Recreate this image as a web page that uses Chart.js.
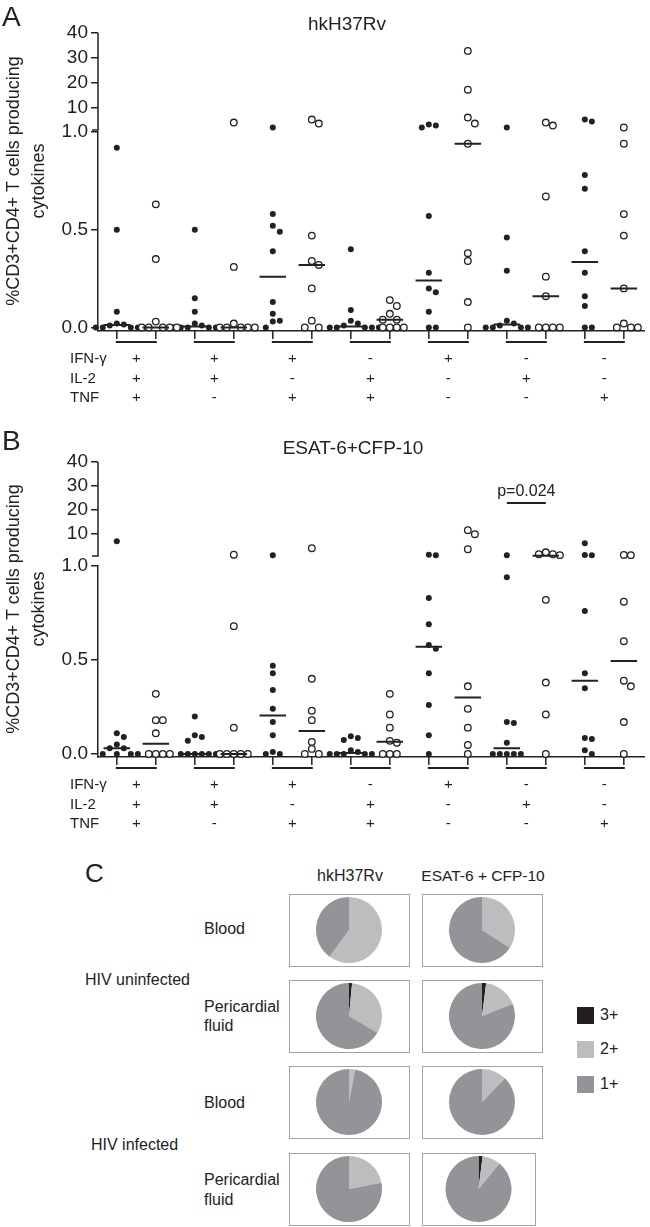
<!DOCTYPE html>
<html>
<head>
<meta charset="utf-8">
<script src="https://cdn.jsdelivr.net/npm/chart.js@4.4.0/dist/chart.umd.min.js"></script>
<style>
  body { margin: 0; background: #fff; }
  #page { position: relative; width: 650px; height: 1227px; overflow: hidden;
          font-family: "Liberation Sans", Arial, sans-serif; color: #222; }
  .t { position: absolute; white-space: nowrap; line-height: 1; }
  .ytitle { position: absolute; width: 340px; text-align: center; font-size: 18px; line-height: 25px;
            transform: translate(-50%, -50%) rotate(-90deg); white-space: nowrap; }
  canvas.panel { position: absolute; left: 0; }
  .box { position: absolute; border: 1.5px solid #a3a3a3; box-sizing: border-box; }
  .box canvas { position: absolute; left: 0; top: 0; }
  .sw { position: absolute; width: 17px; height: 17px; }
</style>
</head>
<body>
<div id="page">
  <canvas id="chartA" class="panel" width="650" height="410" style="top:0"></canvas>
  <canvas id="chartB" class="panel" width="650" height="410" style="top:428px"></canvas>
</div>
<script>
// cytokine combination of each group
const cytokineNames = ['IFN-γ', 'IL-2', 'TNF'];
const ifng = ['+', '+', '+', '-', '+', '-', '-'];
const il2  = ['+', '+', '-', '+', '-', '+', '-'];
const tnf  = ['+', '-', '+', '+', '-', '-', '+'];

// % CD3+CD4+ T cells, one list per cytokine group (filled = blood, open = pericardial fluid)
const hkBlood = [
  [0.92, 0.5, 0.08, 0.02, 0.015, 0.01, 0, 0, 0, 0],
  [0.5, 0.15, 0.08, 0.02, 0.01, 0, 0, 0, 0, 0],
  [2.0, 0.58, 0.52, 0.49, 0.39, 0.13, 0.07, 0.035, 0.03, 0],
  [0.4, 0.09, 0.035, 0.02, 0.01, 0, 0, 0, 0, 0],
  [3.2, 2.8, 2.0, 0.57, 0.28, 0.2, 0.18, 0.08, 0, 0],
  [2.0, 0.46, 0.29, 0.035, 0.02, 0.01, 0, 0, 0, 0],
  [5.2, 4.4, 0.78, 0.71, 0.39, 0.28, 0.16, 0.11, 0, 0]
];
const hkFluid = [
  [0.63, 0.35, 0.03, 0, 0, 0, 0, 0],
  [4.0, 0.31, 0.02, 0, 0, 0, 0, 0],
  [5.2, 3.6, 0.47, 0.34, 0.32, 0.2, 0.035, 0, 0],
  [0.14, 0.11, 0.07, 0.04, 0.04, 0, 0, 0, 0],
  [32.8, 17.2, 6, 3.6, 0.94, 0.38, 0.34, 0.13, 0],
  [4.0, 2.8, 0.67, 0.26, 0.16, 0, 0, 0, 0],
  [2.0, 0.94, 0.58, 0.47, 0.2, 0.02, 0, 0, 0]
];
const esatBlood = [
  [7.1, 0.11, 0.09, 0.05, 0.03, 0.03, 0, 0, 0, 0],
  [0.2, 0.1, 0.09, 0.07, 0, 0, 0, 0, 0, 0],
  [1.3, 0.47, 0.43, 0.34, 0.24, 0.17, 0.1, 0.01, 0, 0],
  [0.095, 0.085, 0.075, 0.02, 0.01, 0, 0, 0, 0, 0],
  [1.5, 1.3, 0.83, 0.69, 0.58, 0.56, 0.43, 0.26, 0.1, 0],
  [1.3, 0.94, 0.17, 0.165, 0.06, 0, 0, 0, 0, 0],
  [6.2, 1.4, 1.3, 0.76, 0.43, 0.35, 0.085, 0.08, 0.02, 0]
];
const esatFluid = [
  [0.32, 0.18, 0.18, 0.11, 0, 0, 0, 0],
  [1.5, 0.68, 0.14, 0, 0, 0, 0, 0],
  [4.2, 0.4, 0.23, 0.18, 0.064, 0.027, 0, 0],
  [0.32, 0.21, 0.14, 0.07, 0.06, 0, 0, 0],
  [11.7, 10, 3.75, 0.36, 0.24, 0.14, 0.048, 0],
  [2.5, 1.7, 1.7, 1.3, 0.82, 0.38, 0.21, 0],
  [1.4, 1.3, 0.81, 0.6, 0.39, 0.36, 0.17, 0]
];
const esatTests = [{ from: 10, to: 11, level: 23, text: 'p=0.024' }];

const yTicksLow = [0, 0.5, 1.0];
const yTicksHigh = [10, 20, 30, 40];

// panel C: proportion of cells making 3, 2 or 1 cytokines
const gradeLabels = ['3+', '2+', '1+'];
const gradeColors = ['#231f20', '#bbbdbf', '#929497'];
const pieCols = ['hkH37Rv', 'ESAT-6 + CFP-10'];
const pieRows = ['Blood', 'Pericardial\nfluid', 'Blood', 'Pericardial\nfluid'];
const hivGroups = ['HIV uninfected', 'HIV infected'];
const pieHk = [[0, 60, 40], [1.5, 32, 66.5], [0, 3, 97], [0, 22, 78]];
const pieEsat = [[0, 34, 66], [2, 17, 81], [0, 12.3, 87.7], [2, 9, 89]];

const ink = '#222';
const fontFamily = '"Liberation Sans", Arial, sans-serif';
Chart.defaults.font.family = fontFamily;
Chart.defaults.color = ink;

function median(arr) {
  const s = [...arr].sort((a, b) => a - b);
  const m = Math.floor(s.length / 2);
  return s.length % 2 ? s[m] : (s[m - 1] + s[m]) / 2;
}

// simple beeswarm: push overlapping points sideways
function swarm(values, col) {
  const step = 0.18, out = [];
  values.forEach(v => {
    const high = v > 1, tol = high ? 2.9 : 0.036;
    for (let k = 0; k < 30; k++) {
      const x = col + (k % 2 ? 1 : -1) * Math.ceil(k / 2) * step;
      const hit = out.some(p => (p.y > 1) === high && Math.abs(p.y - v) < tol && Math.abs(p.x - x) < step * 0.9);
      if (!hit) { out.push({ x, y: v }); break; }
    }
  });
  return out;
}

const groupMarks = {
  id: 'groupMarks',
  afterDraw(chart, args, opts) {
    const { ctx, chartArea, scales } = chart;
    const x = scales.x, yHigh = scales.yHigh;
    ctx.save();
    ctx.strokeStyle = ink;
    ctx.fillStyle = ink;
    ctx.lineWidth = 1.5;
    // upper piece of the broken y axis
    const top = yHigh.getPixelForValue(40), brk = yHigh.getPixelForValue(1);
    ctx.beginPath();
    ctx.moveTo(chartArea.left, top);
    ctx.lineTo(chartArea.left, brk);
    ctx.lineTo(chartArea.left - 6, brk);
    ctx.stroke();

    const base = chartArea.bottom;
    ctx.font = '15px ' + fontFamily;
    ctx.textBaseline = 'middle';
    ctx.textAlign = 'left';
    cytokineNames.forEach((n, r) => ctx.fillText(n, 70, base + 28 + r * 19.5));
    ctx.textAlign = 'center';
    for (let g = 0; g < 7; g++) {
      const x0 = x.getPixelForValue(2 * g), x1 = x.getPixelForValue(2 * g + 1);
      ctx.lineWidth = 1.5;
      ctx.beginPath();
      ctx.moveTo(x0, base); ctx.lineTo(x0, base + 8);
      ctx.moveTo(x1, base); ctx.lineTo(x1, base + 8);
      ctx.stroke();
      ctx.lineWidth = 2;
      ctx.beginPath();
      ctx.moveTo(x0 - 1, base + 11); ctx.lineTo(x1 + 1, base + 11);
      ctx.stroke();
      [ifng, il2, tnf].forEach((row, r) => ctx.fillText(row[g], (x0 + x1) / 2, base + 28 + r * 19.5));
    }

    (opts.tests || []).forEach(t => {
      const y = yHigh.getPixelForValue(t.level);
      const xa = x.getPixelForValue(t.from), xb = x.getPixelForValue(t.to);
      ctx.lineWidth = 2;
      ctx.beginPath(); ctx.moveTo(xa, y); ctx.lineTo(xb, y); ctx.stroke();
      ctx.font = '16px ' + fontFamily;
      ctx.fillText(t.text, (xa + xb) / 2, y - 11);
    });
    ctx.restore();
  }
};

function drawPanel(id, blood, fluid, geom, tests) {
  const bloodLow = [], bloodHigh = [], fluidLow = [], fluidHigh = [];
  const medLow = [], medHigh = [];
  for (let g = 0; g < 7; g++) {
    [[blood[g], 2 * g, bloodLow, bloodHigh], [fluid[g], 2 * g + 1, fluidLow, fluidHigh]].forEach(([vals, col, lo, hi]) => {
      swarm(vals, col).forEach(p => (p.y > 1 ? hi : lo).push(p));
      const m = median(vals);
      (m > 1 ? medHigh : medLow).push({ x: col - 0.34, y: m }, { x: col + 0.34, y: m }, { x: col + 0.34, y: null });
    });
  }

  const filled = { pointRadius: 3, pointBackgroundColor: ink, pointBorderWidth: 0, clip: false, order: 2 };
  const open = { pointRadius: 3.3, pointBackgroundColor: '#fff', pointBorderColor: ink, pointBorderWidth: 1.3, clip: false, order: 1 };
  const medStyle = { type: 'line', borderColor: ink, borderWidth: 2, pointRadius: 0, spanGaps: false, clip: false, order: 0 };

  const yTickStyle = { color: ink, font: { size: 19 }, padding: 3, autoSkip: false };
  const yGrid = { drawOnChartArea: false, tickLength: 7, color: ink, lineWidth: 1.5 };

  new Chart(document.getElementById(id), {
    type: 'scatter',
    data: {
      datasets: [
        { ...medStyle, data: medHigh, yAxisID: 'yHigh' },
        { ...medStyle, data: medLow, yAxisID: 'yLow' },
        { ...open, data: fluidHigh, yAxisID: 'yHigh' },
        { ...open, data: fluidLow, yAxisID: 'yLow' },
        { ...filled, data: bloodHigh, yAxisID: 'yHigh' },
        { ...filled, data: bloodLow, yAxisID: 'yLow' }
      ]
    },
    options: {
      responsive: false,
      animation: false,
      events: [],
      layout: { padding: { top: geom.top, left: 0, right: 0, bottom: 0 } },
      plugins: { legend: { display: false }, tooltip: { enabled: false }, groupMarks: { tests } },
      scales: {
        x: {
          type: 'linear', min: -0.482, max: 13.535,
          ticks: { display: false },
          grid: { display: false, drawTicks: false },
          border: { display: true, color: ink, width: 1.5 },
          afterFit: s => { s.height = geom.xh; }
        },
        // stacked axes are laid out bottom-up in declaration order
        yLow: {
          type: 'linear', position: 'left', stack: 'y', stackWeight: geom.wLow,
          min: geom.loMin, max: 1,
          afterBuildTicks: s => { s.ticks = yTicksLow.map(v => ({ value: v })); },
          ticks: { ...yTickStyle, callback: v => Number(v).toFixed(1) },
          grid: yGrid,
          border: { display: true, color: ink, width: 1.5 },
          afterFit: s => { s.width = 98; }
        },
        yHigh: {
          type: 'linear', position: 'left', stack: 'y', stackWeight: geom.wHigh,
          min: geom.hiMin, max: 40,
          afterBuildTicks: s => { s.ticks = yTicksHigh.map(v => ({ value: v })); },
          ticks: { ...yTickStyle, callback: v => String(v) },
          grid: yGrid,
          border: { display: false },
          afterFit: s => { s.width = 98; }
        }
      }
    },
    plugins: [groupMarks]
  });
}

drawPanel('chartA', hkBlood, hkFluid, { top: 33, xh: 79, wHigh: 99, wLow: 199, hiMin: 0.2, loMin: -0.018 }, []);
drawPanel('chartB', esatBlood, esatFluid, { top: 34, xh: 81, wHigh: 104, wLow: 191, hiMin: -3.2, loMin: -0.016 }, esatTests);

// ---- text around the dot plots and panel C ----
const page = document.getElementById('page');
function text(str, x, y, size, align) {
  const d = document.createElement('div');
  d.className = 't';
  d.textContent = str;
  d.style.left = x + 'px';
  d.style.top = y + 'px';
  d.style.fontSize = size + 'px';
  const tx = align === 'center' ? '-50%' : '0';
  d.style.transform = `translate(${tx}, -50%)`;
  page.appendChild(d);
  return d;
}
function yTitle(cy) {
  const d = document.createElement('div');
  d.className = 'ytitle';
  d.innerHTML = '%CD3+CD4+ T cells producing<br>cytokines';
  d.style.left = '26px';
  d.style.top = cy + 'px';
  page.appendChild(d);
}

text('A', 2, 17, 28, 'left');
text('hkH37Rv', 347, 23, 19, 'center');
yTitle(181);
text('B', 2, 441, 28, 'left');
text('ESAT-6+CFP-10', 353, 447, 19, 'center');
yTitle(609);

text('C', 85, 873, 26, 'left');
text(pieCols[0], 350, 876, 16, 'center');
text(pieCols[1], 483, 876, 15.5, 'center');

const rowTops = [894, 980, 1066, 1153];
const colLefts = [289, 422];
const rowLabelY = [[929], [1007, 1026], [1103], [1180, 1200]];
pieRows.forEach((lab, r) => {
  lab.split('\n').forEach((line, i) => text(line, 204, rowLabelY[r][i], 16, 'left'));
});
text(hivGroups[0], 85, 980, 16, 'left');
text(hivGroups[1], 91, 1145, 16, 'left');

function drawPie(r, c, values) {
  const w = (r === 3 && c === 1) ? 114 : 121, h = 73;
  const box = document.createElement('div');
  box.className = 'box';
  box.style.left = colLefts[c] + 'px';
  box.style.top = rowTops[r] + 'px';
  box.style.width = w + 'px';
  box.style.height = h + 'px';
  const cv = document.createElement('canvas');
  cv.width = w - 3;
  cv.height = h - 3;
  box.appendChild(cv);
  page.appendChild(box);
  new Chart(cv, {
    type: 'pie',
    data: { labels: gradeLabels, datasets: [{ data: values, backgroundColor: gradeColors, borderWidth: 0 }] },
    options: {
      responsive: false, animation: false, events: [],
      layout: { padding: 2 },
      plugins: { legend: { display: false }, tooltip: { enabled: false } }
    }
  });
}
for (let r = 0; r < 4; r++) {
  drawPie(r, 0, pieHk[r]);
  drawPie(r, 1, pieEsat[r]);
}

// legend for panel C
const legendY = [1015, 1049, 1084];
gradeLabels.forEach((lab, i) => {
  const sw = document.createElement('div');
  sw.className = 'sw';
  sw.style.left = '577px';
  sw.style.top = (legendY[i] - 8.5) + 'px';
  sw.style.background = gradeColors[i];
  page.appendChild(sw);
  text(lab, 600, legendY[i], 16, 'left');
});
</script>
</body>
</html>
